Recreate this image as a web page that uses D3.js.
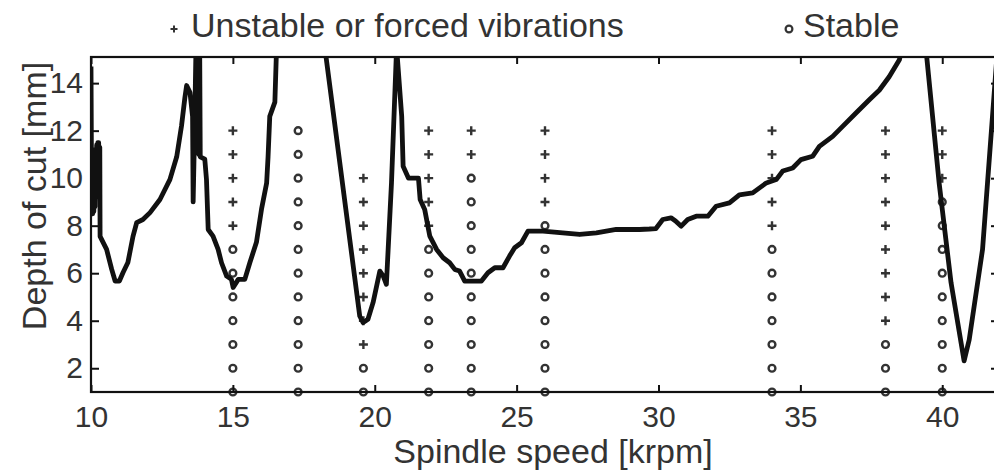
<!DOCTYPE html>
<html>
<head>
<meta charset="utf-8">
<script src="https://cdn.jsdelivr.net/npm/d3@7"></script>
<style>
  html, body { margin: 0; padding: 0; background: #fff; }
  svg { display: block; font-family: "Liberation Sans", Arial, Helvetica, sans-serif; }
</style>
</head>
<body>
<svg id="chart" width="994" height="472"></svg>
<script>
// ---- data ----
const xTicks = [10, 15, 20, 25, 30, 35, 40];
const yTicks = [2, 4, 6, 8, 10, 12, 14];

// stability lobe boundary, three branches: [spindle speed krpm, depth mm]
const lobeBranch1 = [
  [10.0, 14.7], [10.02, 9.6], [10.04, 11.0], [10.06, 8.5], [10.08, 10.9], [10.1, 8.6],
  [10.12, 11.2], [10.14, 8.8], [10.16, 11.0], [10.18, 9.2], [10.2, 11.4], [10.22, 9.4],
  [10.24, 11.5], [10.27, 11.5], [10.29, 9.5], [10.31, 11.3], [10.32, 7.55], [10.55, 7.0], [10.73, 6.16],
  [10.85, 5.67], [11.0, 5.67], [11.13, 6.03], [11.3, 6.45], [11.48, 7.55], [11.61, 8.13],
  [11.83, 8.26], [12.08, 8.55], [12.43, 9.1], [12.78, 9.94], [13.02, 10.9], [13.19, 12.2],
  [13.31, 13.4], [13.37, 13.9], [13.49, 13.6], [13.58, 12.6], [13.6, 9.0], [13.65, 12.0],
  [13.7, 15.5], [13.74, 11.2], [13.77, 15.5], [13.8, 11.0], [13.83, 15.5], [13.85, 10.9],
  [14.01, 10.8], [14.07, 9.94],
  [14.13, 7.84], [14.3, 7.56], [14.48, 7.0], [14.6, 6.44], [14.78, 5.88], [14.95, 5.74],
  [15.01, 5.4], [15.19, 5.74], [15.42, 5.74], [15.6, 6.45], [15.83, 7.3], [16.01, 8.7],
  [16.19, 9.8], [16.24, 10.9], [16.3, 12.6], [16.48, 13.2], [16.54, 15.5]
];
const lobeBranch2 = [
  [18.24, 15.5], [19.47, 4.2], [19.59, 3.92], [19.76, 4.06], [19.94, 4.76], [20.18, 6.09],
  [20.3, 5.88], [20.41, 5.53], [20.59, 9.8], [20.77, 15.5], [20.95, 12.6], [21.0, 10.5],
  [21.19, 10.0], [21.54, 10.0], [21.6, 9.1], [21.76, 8.68], [21.94, 7.56], [22.18, 7.0],
  [22.41, 6.65], [22.64, 6.44], [22.82, 6.16], [22.99, 6.09], [23.17, 5.67], [23.76, 5.67],
  [23.99, 6.02], [24.23, 6.23], [24.52, 6.23], [24.75, 6.72], [24.93, 7.07], [25.17, 7.28],
  [25.4, 7.77], [25.93, 7.77], [27.22, 7.63], [27.81, 7.7], [28.51, 7.84], [29.33, 7.84],
  [29.68, 7.86], [29.91, 7.88], [30.15, 8.26], [30.44, 8.33], [30.6, 8.2], [30.8, 7.98],
  [31.03, 8.26], [31.33, 8.4], [31.74, 8.4], [32.03, 8.82], [32.5, 8.96], [32.85, 9.3],
  [33.32, 9.38], [33.8, 9.8], [34.15, 9.94], [34.38, 10.3], [34.73, 10.43], [35.02, 10.78],
  [35.43, 10.92], [35.67, 11.34], [36.14, 11.76], [36.49, 12.18], [36.96, 12.74],
  [37.43, 13.3], [37.78, 13.7], [38.13, 14.27], [38.49, 14.98], [38.58, 15.5]
];
const lobeBranch3 = [
  [39.42, 15.5], [39.89, 9.8], [40.31, 5.6], [40.77, 2.31], [40.95, 3.2], [41.42, 7.0], [41.77, 12.6], [41.95, 15.5]
];

// cutting tests: speeds, highest tested depth, highest stable depth
const testSpeeds   = [15, 17.3, 19.6, 21.9, 23.4, 26, 34, 38, 40];
const testTopDepth = [12, 12, 10, 12, 12, 12, 12, 12, 12];
const testStableTo = [7, 12, 2, 7, 10, 8, 7, 3, 9];

const legendLabels = ["Unstable or forced vibrations", "Stable"];

// ---- drawing ----
const svg = d3.select("#chart");
const L = 91, R = 999, T = 57, B = 392;
const x = d3.scaleLinear().domain([10, 42]).range([L, R]);
const y = d3.scaleLinear().domain([1, 15.1]).range([B, T]);
const ink = "#111";
const grey = "#333";

svg.append("defs").append("clipPath").attr("id", "plotclip")
  .append("rect").attr("x", L).attr("y", T).attr("width", R - L).attr("height", B - T);

// test points
const tests = [];
testSpeeds.forEach((s, i) => {
  for (let d = 1; d <= testTopDepth[i]; d++) {
    tests.push({ s, d, stable: d <= testStableTo[i] });
  }
});
const mk = svg.append("g");
mk.selectAll("circle").data(tests.filter(t => t.stable)).join("circle")
  .attr("cx", t => x(t.s)).attr("cy", t => y(t.d)).attr("r", 3.4)
  .attr("fill", "none").attr("stroke", grey).attr("stroke-width", 2.4);
mk.selectAll("path").data(tests.filter(t => !t.stable)).join("path")
  .attr("d", t => `M${x(t.s) - 4.5},${y(t.d)}h9M${x(t.s)},${y(t.d) - 4.5}v9`)
  .attr("stroke", grey).attr("stroke-width", 2.4);

// axes
const fs = 30;
const gx = svg.append("g").attr("transform", `translate(0,${B})`)
  .call(d3.axisBottom(x).tickValues(xTicks).tickFormat(d3.format("d")).tickSizeInner(-7).tickSizeOuter(0).tickPadding(14));
const gxt = svg.append("g").attr("transform", `translate(0,${T})`)
  .call(d3.axisTop(x).tickValues(xTicks).tickFormat("").tickSizeInner(-7).tickSizeOuter(0));
const gy = svg.append("g").attr("transform", `translate(${L},0)`)
  .call(d3.axisLeft(y).tickValues(yTicks).tickFormat(d3.format("d")).tickSizeInner(-8).tickSizeOuter(0).tickPadding(8));
const gyr = svg.append("g").attr("transform", `translate(${R},0)`)
  .call(d3.axisRight(y).tickValues(yTicks).tickFormat("").tickSizeInner(-8).tickSizeOuter(0));
[gx, gxt, gy, gyr].forEach(g => {
  g.select(".domain").remove();
  g.selectAll("line").attr("stroke", ink).attr("stroke-width", 2);
  g.selectAll("text").attr("fill", grey).style("font-size", fs + "px");
});
svg.append("rect").attr("x", L).attr("y", T).attr("width", R - L).attr("height", B - T)
  .attr("fill", "none").attr("stroke", ink).attr("stroke-width", 2.2);

// lobe curve
const line = d3.line().x(d => x(d[0])).y(d => y(d[1]));
const cg = svg.append("g").attr("clip-path", "url(#plotclip)");
[lobeBranch1, lobeBranch2, lobeBranch3].forEach(b => {
  cg.append("path").datum(b).attr("d", line).attr("fill", "none")
    .attr("stroke", ink).attr("stroke-width", 4.8)
    .attr("stroke-linejoin", "round").attr("stroke-linecap", "butt");
});

// axis titles
svg.append("text").attr("x", 553).attr("y", 463).attr("text-anchor", "middle")
  .attr("fill", grey).style("font-size", "34px").text("Spindle speed [krpm]");
svg.append("text").attr("transform", "translate(46,196) rotate(-90)").attr("text-anchor", "middle")
  .attr("fill", grey).style("font-size", "34px").text("Depth of cut [mm]");

// legend
const lg = svg.append("g");
lg.append("path").attr("d", `M${174 - 3.5},29h7M174,${29 - 3.5}v7`).attr("stroke", grey).attr("stroke-width", 2);
lg.append("text").attr("x", 191).attr("y", 37).attr("fill", grey).style("font-size", "34px").text(legendLabels[0]);
lg.append("circle").attr("cx", 789).attr("cy", 29).attr("r", 3.4).attr("fill", "none").attr("stroke", grey).attr("stroke-width", 2.2);
lg.append("text").attr("x", 803).attr("y", 37).attr("fill", grey).style("font-size", "34px").text(legendLabels[1]);
</script>
</body>
</html>
